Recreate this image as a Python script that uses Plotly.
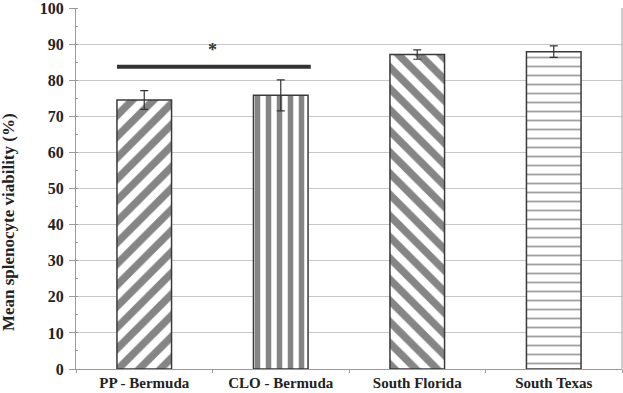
import plotly.graph_objects as go

categories = ["PP - Bermuda", "CLO - Bermuda", "South Florida", "South Texas"]
viability = [74.5, 75.8, 87.1, 87.9]
error = [2.6, 4.3, 1.3, 1.6]
y_ticks = list(range(0, 101, 10))
sig_pair = [0, 1]
sig_level = 83.7
sig_label = "*"
y_title = "Mean splenocyte viability (%)"

patterns = ["/", "|", "\\", "-"]
pat_size = [15, 11, 15, 9]
pat_solid = [0.5, 0.5, 0.5, 0.2]
pat_fg = ["#858585", "#858585", "#858585", "#a0a0a0"]

serif = "Liberation Serif"

fig = go.Figure()
fig.add_trace(go.Bar(
    x=categories, y=viability,
    width=0.4,
    marker=dict(
        color="white",
        line=dict(color="#3a3a3a", width=1.5),
        pattern=dict(shape=patterns, size=pat_size, solidity=pat_solid,
                     fgcolor=pat_fg, bgcolor="white", fillmode="replace"),
    ),
    error_y=dict(type="data", array=error, color="#333333", thickness=1.2, width=4),
))

fig.add_shape(type="line", xref="x", yref="y",
              x0=sig_pair[0] - 0.2, x1=sig_pair[1] + 0.22, y0=sig_level, y1=sig_level,
              line=dict(color="#333333", width=4))
fig.add_annotation(x=(sig_pair[0] + sig_pair[1]) / 2, y=sig_level + 4.6, text=sig_label,
                   showarrow=False, font=dict(family=serif, size=18, color="#333333"))

# y-axis title placed as in the reference (shifted toward the bottom)
fig.add_annotation(xref="paper", yref="paper", x=0, xshift=-68, y=0.407,
                   xanchor="center", yanchor="middle", textangle=-90,
                   text=y_title, showarrow=False,
                   font=dict(family=serif, size=17, color="#222222", weight="bold"))

fig.update_layout(
    width=623, height=393,
    margin=dict(l=76, r=1, t=8, b=24, autoexpand=False),
    paper_bgcolor="white", plot_bgcolor="white",
    showlegend=False,
    font=dict(family=serif, size=15, color="#222222", weight="bold"),
)
fig.update_xaxes(
    automargin=False,
    showline=True, linecolor="#9a9a9a", linewidth=1, mirror=False,
    ticks="outside", ticklen=3, tickcolor="#9a9a9a", tickson="boundaries",
    showgrid=False,
    tickfont=dict(family=serif, size=15, color="#222222", weight="bold"),
    range=[-0.5, 3.5],
)
fig.update_yaxes(
    automargin=False,
    range=[0, 100], tickvals=y_ticks,
    ticklabeloverflow="allow",
    showline=True, linecolor="#9a9a9a", linewidth=1,
    ticks="outside", ticklen=6, tickcolor="#9a9a9a",
    ticklabelstandoff=2,
    showgrid=True, gridcolor="#c8c8c8", gridwidth=1,
    minor=dict(dtick=5, ticks="inside", ticklen=2, tickcolor="#9a9a9a", showgrid=False),
    zeroline=False,
    tickfont=dict(family=serif, size=16, color="#222222", weight="bold"),
)
# right border line
fig.add_shape(type="line", xref="paper", yref="paper", x0=1, x1=1, y0=0, y1=1,
              line=dict(color="#9a9a9a", width=1))

fig.write_html("out.html", config={"displayModeBar": False})

# remove default page margin so the figure sits at the window's top-left corner
with open("out.html", "r", encoding="utf-8") as f:
    html = f.read()
html = html.replace("<head>", "<head><style>html,body{margin:0;padding:0;overflow:hidden;}</style>", 1)
with open("out.html", "w", encoding="utf-8") as f:
    f.write(html)
